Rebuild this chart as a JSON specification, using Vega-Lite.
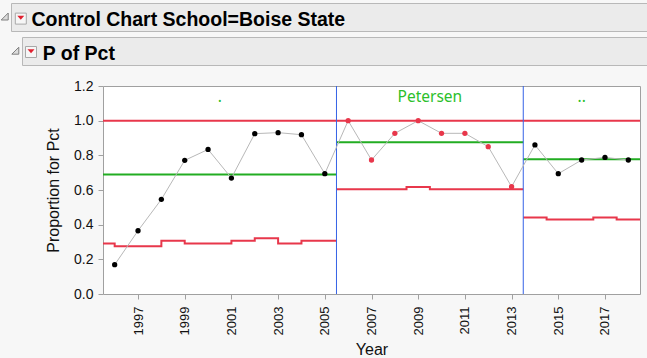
{
  "$schema": "https://vega.github.io/schema/vega-lite/v6.json",
  "background": "#f7f7f7",
  "padding": {"left": 0, "top": 2, "right": 0, "bottom": 0},
  "bounds": "flush",
  "spacing": 0,
  "config": {
    "view": {"stroke": null},
    "axis": {
      "labelFont": "Liberation Sans", "labelFontSize": 14, "labelColor": "#111111", "labelOverlap": false,
      "titleFont": "Liberation Sans", "titleFontSize": 16, "titleFontWeight": "normal", "titleColor": "#111111",
      "tickColor": "#a0a0a0", "tickSize": 5, "domain": false, "grid": false, "labelPadding": 5, "tickCount": 20
    }
  },
  "datasets": {
    "pts": [
      {"Year": 1996, "P": 0.169, "Phase": "1"},
      {"Year": 1997, "P": 0.365, "Phase": "1"},
      {"Year": 1998, "P": 0.546, "Phase": "1"},
      {"Year": 1999, "P": 0.771, "Phase": "1"},
      {"Year": 2000, "P": 0.834, "Phase": "1"},
      {"Year": 2001, "P": 0.669, "Phase": "1"},
      {"Year": 2002, "P": 0.925, "Phase": "1"},
      {"Year": 2003, "P": 0.931, "Phase": "1"},
      {"Year": 2004, "P": 0.919, "Phase": "1"},
      {"Year": 2005, "P": 0.694, "Phase": "1"},
      {"Year": 2006, "P": 1.0, "Phase": "2"},
      {"Year": 2007, "P": 0.773, "Phase": "2"},
      {"Year": 2008, "P": 0.927, "Phase": "2"},
      {"Year": 2009, "P": 1.0, "Phase": "2"},
      {"Year": 2010, "P": 0.927, "Phase": "2"},
      {"Year": 2011, "P": 0.927, "Phase": "2"},
      {"Year": 2012, "P": 0.85, "Phase": "2"},
      {"Year": 2013, "P": 0.619, "Phase": "2"},
      {"Year": 2014, "P": 0.86, "Phase": "3"},
      {"Year": 2015, "P": 0.694, "Phase": "3"},
      {"Year": 2016, "P": 0.773, "Phase": "3"},
      {"Year": 2017, "P": 0.788, "Phase": "3"},
      {"Year": 2018, "P": 0.773, "Phase": "3"}
    ],
    "phases": [
      {"Phase": "1", "start": 1995.5, "end": 2005.5, "mid": 2000.5, "center": 0.69, "ucl": 1.0, "label": "."},
      {"Phase": "2", "start": 2005.5, "end": 2013.5, "mid": 2009.5, "center": 0.875, "ucl": 1.0, "label": "Petersen"},
      {"Phase": "3", "start": 2013.5, "end": 2018.5, "mid": 2016, "center": 0.778, "ucl": 1.0, "label": ".."}
    ],
    "lcl": [
      {"Year": 1995.5, "LCL": 0.292, "Phase": "1"},
      {"Year": 1996, "LCL": 0.275, "Phase": "1"},
      {"Year": 1998, "LCL": 0.307, "Phase": "1"},
      {"Year": 1999, "LCL": 0.292, "Phase": "1"},
      {"Year": 2001, "LCL": 0.307, "Phase": "1"},
      {"Year": 2002, "LCL": 0.321, "Phase": "1"},
      {"Year": 2003, "LCL": 0.292, "Phase": "1"},
      {"Year": 2004, "LCL": 0.307, "Phase": "1"},
      {"Year": 2005.5, "LCL": 0.307, "Phase": "1"},
      {"Year": 2005.5, "LCL": 0.604, "Phase": "2"},
      {"Year": 2008.5, "LCL": 0.617, "Phase": "2"},
      {"Year": 2009.5, "LCL": 0.604, "Phase": "2"},
      {"Year": 2013.5, "LCL": 0.604, "Phase": "2"},
      {"Year": 2013.5, "LCL": 0.442, "Phase": "3"},
      {"Year": 2014.5, "LCL": 0.43, "Phase": "3"},
      {"Year": 2016.5, "LCL": 0.442, "Phase": "3"},
      {"Year": 2017.5, "LCL": 0.43, "Phase": "3"},
      {"Year": 2018.5, "LCL": 0.43, "Phase": "3"}
    ]
  },
  "vconcat": [
    {
      "hconcat": [
        {
          "width": 11, "height": 28,
          "data": {"values": [{"k": 1}]},
          "mark": {"type": "point", "shape": "M1,-1L1,1L-1,1Z", "filled": true, "fill": "#dcdcdc", "stroke": "#808080", "strokeWidth": 1, "strokeJoin": "round", "size": 49, "opacity": 1},
          "encoding": {"x": {"value": 4.7}, "y": {"value": 13.5}}
        },
        {
          "width": 636, "height": 28,
          "view": {"fill": "#ebebeb", "stroke": "#b8b8b8"},
          "data": {"values": [{"t": "Control Chart School=Boise State"}]},
          "layer": [
            {"mark": {"type": "point", "shape": "square", "filled": true, "fill": "#f6f6f6", "stroke": "#a8a8a8", "strokeWidth": 1, "size": 121, "opacity": 1},
             "encoding": {"x": {"value": 9.8}, "y": {"value": 15.6}}},
            {"mark": {"type": "point", "shape": "M-1,-0.55L1,-0.55L0,0.55Z", "filled": true, "fill": "#e0202f", "strokeWidth": 0, "size": 49, "opacity": 1},
             "encoding": {"x": {"value": 9.8}, "y": {"value": 14.8}}},
            {"mark": {"type": "text", "align": "left", "baseline": "alphabetic", "font": "Liberation Sans", "fontWeight": "bold", "fontSize": 19.5, "color": "#000000"},
             "encoding": {"text": {"field": "t"}, "x": {"value": 20.5}, "y": {"value": 22.6}}}
          ]
        }
      ],
      "spacing": 0,
      "bounds": "flush"
    },
    {"width": 1, "height": 34, "data": {"values": []}, "mark": "point"},
    {
      "hconcat": [
        {
          "width": 22, "height": 28,
          "data": {"values": [{"k": 1}]},
          "mark": {"type": "point", "shape": "M1,-1L1,1L-1,1Z", "filled": true, "fill": "#dcdcdc", "stroke": "#808080", "strokeWidth": 1, "strokeJoin": "round", "size": 49, "opacity": 1},
          "encoding": {"x": {"value": 15.3}, "y": {"value": 13.7}}
        },
        {
          "width": 625, "height": 28,
          "view": {"fill": "#ebebeb", "stroke": "#b8b8b8"},
          "data": {"values": [{"t": "P of Pct"}]},
          "layer": [
            {"mark": {"type": "point", "shape": "square", "filled": true, "fill": "#f6f6f6", "stroke": "#a8a8a8", "strokeWidth": 1, "size": 121, "opacity": 1},
             "encoding": {"x": {"value": 9}, "y": {"value": 15}}},
            {"mark": {"type": "point", "shape": "M-1,-0.55L1,-0.55L0,0.55Z", "filled": true, "fill": "#e0202f", "strokeWidth": 0, "size": 49, "opacity": 1},
             "encoding": {"x": {"value": 9}, "y": {"value": 14.2}}},
            {"mark": {"type": "text", "align": "left", "baseline": "alphabetic", "font": "Liberation Sans", "fontWeight": "bold", "fontSize": 19.5, "color": "#000000"},
             "encoding": {"text": {"field": "t"}, "x": {"value": 20.7}, "y": {"value": 23.3}}}
          ]
        }
      ],
      "spacing": 0,
      "bounds": "flush"
    },
    {"width": 1, "height": 49, "data": {"values": []}, "mark": "point"},
    {
      "hconcat": [
        {"width": 103, "height": 208, "data": {"values": []}, "mark": "point"},
        {
          "width": 537, "height": 208,
          "view": {"fill": "#ffffff", "stroke": "#a0a0a0"},
          "layer": [
            {
              "data": {"name": "phases"},
              "mark": {"type": "rule", "color": "#e8374b", "strokeWidth": 2},
              "encoding": {
                "x": {"field": "start", "type": "quantitative", "scale": {"domain": [1995.5, 2018.5], "nice": false, "zero": false}, "title": "Year"},
                "x2": {"field": "end"},
                "y": {"field": "ucl", "type": "quantitative", "scale": {"domain": [0, 1.2], "nice": false}, "title": "Proportion for Pct",
                      "axis": {"values": [0, 0.2, 0.4, 0.6, 0.8, 1.0, 1.2], "format": ".1f", "titlePadding": 12, "tickCount": 20}}
              }
            },
            {
              "data": {"name": "phases"},
              "mark": {"type": "rule", "color": "#22ad22", "strokeWidth": 2},
              "encoding": {
                "x": {"field": "start", "type": "quantitative", "scale": {"domain": [1995.5, 2018.5], "nice": false, "zero": false}, "title": "Year"},
                "x2": {"field": "end"},
                "y": {"field": "center", "type": "quantitative", "scale": {"domain": [0, 1.2], "nice": false}, "title": "Proportion for Pct"}
              }
            },
            {
              "data": {"name": "lcl"},
              "mark": {"type": "line", "interpolate": "step-after", "color": "#e8374b", "strokeWidth": 2},
              "encoding": {
                "x": {"field": "Year", "type": "quantitative", "scale": {"domain": [1995.5, 2018.5], "nice": false, "zero": false}, "title": "Year"},
                "y": {"field": "LCL", "type": "quantitative", "scale": {"domain": [0, 1.2], "nice": false}, "title": "Proportion for Pct"},
                "detail": {"field": "Phase"}
              }
            },
            {
              "data": {"name": "phases"},
              "transform": [{"filter": "datum.start > 1996"}],
              "mark": {"type": "rule", "color": "#3562e6", "strokeWidth": 1},
              "encoding": {
                "x": {"field": "start", "type": "quantitative", "scale": {"domain": [1995.5, 2018.5], "nice": false, "zero": false}, "title": "Year"}
              }
            },
            {
              "data": {"name": "pts"},
              "mark": {"type": "line", "color": "#b8b8b8", "strokeWidth": 1},
              "encoding": {
                "x": {"field": "Year", "type": "quantitative", "scale": {"domain": [1995.5, 2018.5], "nice": false, "zero": false}, "title": "Year",
                      "axis": {"values": [1997, 1999, 2001, 2003, 2005, 2007, 2009, 2011, 2013, 2015, 2017], "format": "d", "labelAngle": 270, "labelFontSize": 13, "labelPadding": 7, "titlePadding": 7, "tickCount": 20}},
                "y": {"field": "P", "type": "quantitative", "scale": {"domain": [0, 1.2], "nice": false}, "title": "Proportion for Pct"}
              }
            },
            {
              "data": {"name": "pts"},
              "mark": {"type": "circle", "size": 28, "opacity": 1},
              "encoding": {
                "x": {"field": "Year", "type": "quantitative", "scale": {"domain": [1995.5, 2018.5], "nice": false, "zero": false}, "title": "Year"},
                "y": {"field": "P", "type": "quantitative", "scale": {"domain": [0, 1.2], "nice": false}, "title": "Proportion for Pct"},
                "color": {"field": "Phase", "type": "nominal", "scale": {"domain": ["1", "2", "3"], "range": ["#000000", "#e8374b", "#000000"]}, "legend": null}
              }
            },
            {
              "data": {"name": "phases"},
              "mark": {"type": "text", "align": "center", "baseline": "alphabetic", "font": "Noto Sans", "fontSize": 15.5, "color": "#2bbf2b"},
              "encoding": {
                "x": {"field": "mid", "type": "quantitative", "scale": {"domain": [1995.5, 2018.5], "nice": false, "zero": false}, "title": "Year"},
                "y": {"datum": 1.105, "type": "quantitative", "scale": {"domain": [0, 1.2], "nice": false}, "title": "Proportion for Pct"},
                "text": {"field": "label"}
              }
            }
          ]
        }
      ],
      "spacing": 0,
      "bounds": "flush"
    }
  ]
}
